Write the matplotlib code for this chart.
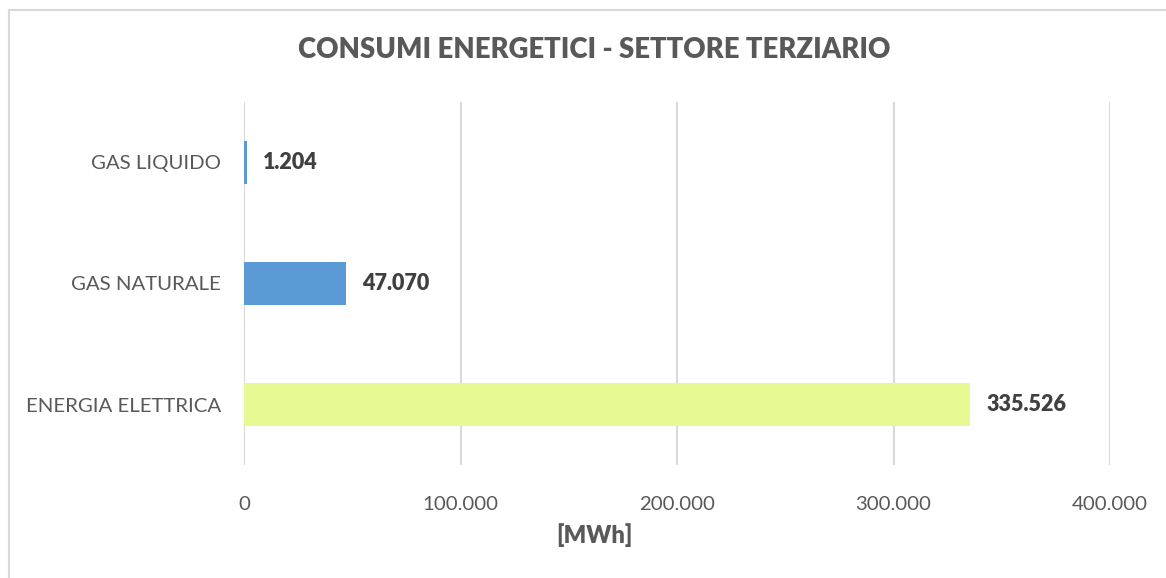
import matplotlib.pyplot as plt
from matplotlib.patches import Rectangle
from matplotlib.ticker import FuncFormatter

# data
categories = ['ENERGIA ELETTRICA', 'GAS NATURALE', 'GAS LIQUIDO']
values = [335526, 47070, 1204]
bar_colors = ['#E6F993', '#5B9BD5', '#5B9BD5']
ticks = [0, 100000, 200000, 300000, 400000]

plt.rcParams['font.family'] = ['Lato', 'DejaVu Sans']

fig = plt.figure(figsize=(11.66, 5.78), dpi=100)
ax = fig.add_axes([244 / 1166, 1 - 465 / 578, 866 / 1166, 363 / 578])

# outer chart border (only top and left visible in the reference)
fig.patches.append(Rectangle((9 / 1166, -0.1), 1.2, 1 - 10 / 578 + 0.1,
                             transform=fig.transFigure, fill=False,
                             edgecolor='#D9D9D9', linewidth=1.5))

ypos = list(range(len(categories)))
ax.barh(ypos, values, height=0.355, color=bar_colors, zorder=2)

for y, v in zip(ypos, values):
    ax.text(v + 7500, y, f"{v:,}".replace(',', '.'), va='center', ha='left',
            fontsize=15.5, fontweight='heavy', color='#404040')

ax.set_xlim(0, 400000)
ax.set_ylim(-0.5, 2.5)
ax.set_xticks(ticks)
ax.xaxis.set_major_formatter(FuncFormatter(lambda v, p: f"{int(v):,}".replace(',', '.')))
ax.set_yticks(ypos)
ax.set_yticklabels(categories)
ax.grid(axis='x', color='#D9D9D9', linewidth=1.5, zorder=0)
ax.tick_params(axis='both', length=0, labelsize=14.7, labelcolor='#595959')
ax.tick_params(axis='x', pad=22)
ax.tick_params(axis='y', pad=16.5)
for s in ax.spines.values():
    s.set_visible(False)

fig.text(594 / 1166, 1 - 535 / 578, '[MWh]', ha='center', va='center',
         fontsize=17, fontweight='heavy', color='#595959')
fig.text(594 / 1166, 1 - 50 / 578, 'CONSUMI ENERGETICI - SETTORE TERZIARIO',
         ha='center', va='center', fontsize=19.8, fontweight='heavy', color='#595959')

fig.savefig('out.png', dpi=100, facecolor='white')
